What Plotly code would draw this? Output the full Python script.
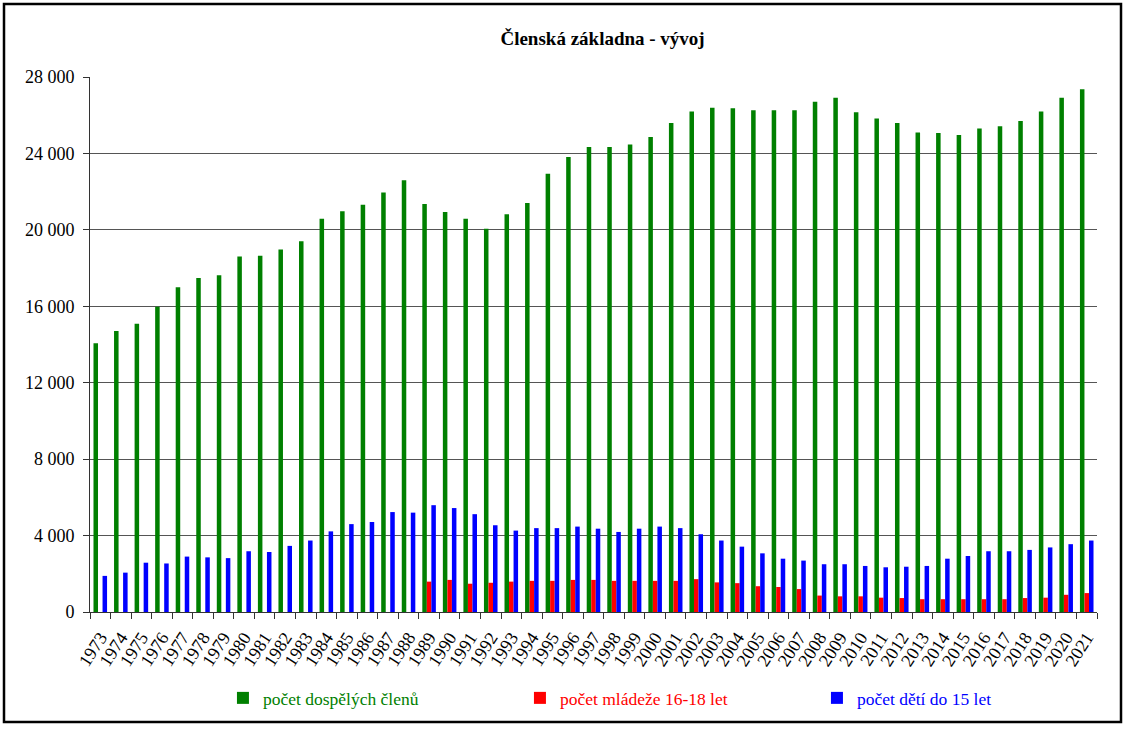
import plotly.graph_objects as go

# Data
years = [str(y) for y in range(1973, 2022)]

adults = [14070, 14710, 15080, 15980, 16990, 17480, 17630, 18600, 18640, 18970,
          19400, 20580, 20970, 21310, 21960, 22600, 21350, 20930, 20580, 20060,
          20820, 21400, 22930, 23810, 24340, 24340, 24470, 24860, 25590, 26190,
          26390, 26360, 26260, 26260, 26260, 26710, 26920, 26150, 25830, 25590,
          25100, 25070, 24970, 25310, 25420, 25700, 26190, 26920, 27360]

youth = [0, 0, 0, 0, 0, 0, 0, 0, 0, 0,
         0, 0, 0, 0, 0, 0, 1590, 1680, 1480, 1530,
         1590, 1630, 1630, 1680, 1680, 1630, 1630, 1630, 1630, 1720,
         1550, 1510, 1350, 1310, 1200, 860, 820, 820, 750, 730,
         670, 670, 670, 670, 670, 730, 750, 900, 990]

children = [1890, 2060, 2580, 2540, 2900, 2860, 2820, 3180, 3140, 3460,
            3740, 4220, 4600, 4710, 5230, 5200, 5590, 5440, 5120, 4540,
            4260, 4390, 4390, 4470, 4360, 4190, 4360, 4470, 4390, 4070,
            3740, 3420, 3070, 2790, 2690, 2500, 2500, 2410, 2340, 2370,
            2410, 2790, 2930, 3180, 3180, 3250, 3380, 3550, 3740]

y_ticks = list(range(0, 28001, 4000))
y_tick_text = [f"{v:,}".replace(",", " ") for v in y_ticks]

FONT = "Liberation Serif, Times New Roman, serif"

fig = go.Figure()
fig.add_trace(go.Bar(x=years, y=adults, marker=dict(color="#008000", line=dict(width=0)),
                     name="<span style='color:#008000'>počet dospělých členů</span>"))
fig.add_trace(go.Bar(x=years, y=youth, marker=dict(color="#ff0000", line=dict(width=0)),
                     name="<span style='color:#ff0000'>počet mládeže 16-18 let</span>"))
fig.add_trace(go.Bar(x=years, y=children, marker=dict(color="#0000ff", line=dict(width=0)),
                     name="<span style='color:#0000ff'>počet dětí do 15 let</span>"))

fig.update_layout(
    width=1126, height=729,
    margin=dict(l=90, r=29, t=77, b=117),
    paper_bgcolor="white", plot_bgcolor="white",
    font=dict(family=FONT, size=18, color="black"),
    barmode="group", bargap=0.34, bargroupgap=0,
    title=dict(text="<b>Členská základna - vývoj</b>", font=dict(family=FONT, size=19),
               xref="paper", x=0.509, xanchor="center",
               yref="container", y=1 - 38 / 729, yanchor="middle"),
    legend=dict(orientation="h", xref="container", yref="container",
                x=0.198, xanchor="left", y=1 - 698 / 729, yanchor="middle",
                font=dict(family=FONT, size=17.5), entrywidth=252, itemwidth=30,
                bgcolor="rgba(0,0,0,0)"),
    showlegend=True,
)

fig.update_xaxes(
    type="category", tickmode="array", tickvals=years, tickangle=-57,
    tickson="boundaries", ticks="outside", ticklen=6, automargin=False,
    tickcolor="#333", showline=True, linecolor="#333", linewidth=1,
    ticklabelstandoff=7,
    showgrid=False, tickfont=dict(family=FONT, size=18),
)
fig.update_yaxes(
    range=[0, 28000], tickvals=y_ticks, ticktext=y_tick_text, automargin=False,
    ticks="outside", ticklen=6, tickcolor="#333", ticklabelstandoff=5,
    showline=True, linecolor="#333", linewidth=1,
    showgrid=True, gridcolor="#555", gridwidth=1, zeroline=False,
    tickfont=dict(family=FONT, size=18),
)

# black frame around the whole chart
fig.add_shape(type="rect", xref="paper", yref="paper",
              x0=(4 - 90) / 1007, x1=(1121 - 90) / 1007,
              y0=(612 - 722) / 535, y1=(612 - 4) / 535,
              line=dict(color="black", width=2.5), fillcolor="rgba(0,0,0,0)")

# drop the browser's default page margin so the chart sits at the top-left corner
fig.write_html("out.html", config={"displayModeBar": False},
               post_script="document.body.style.margin = '0';")
